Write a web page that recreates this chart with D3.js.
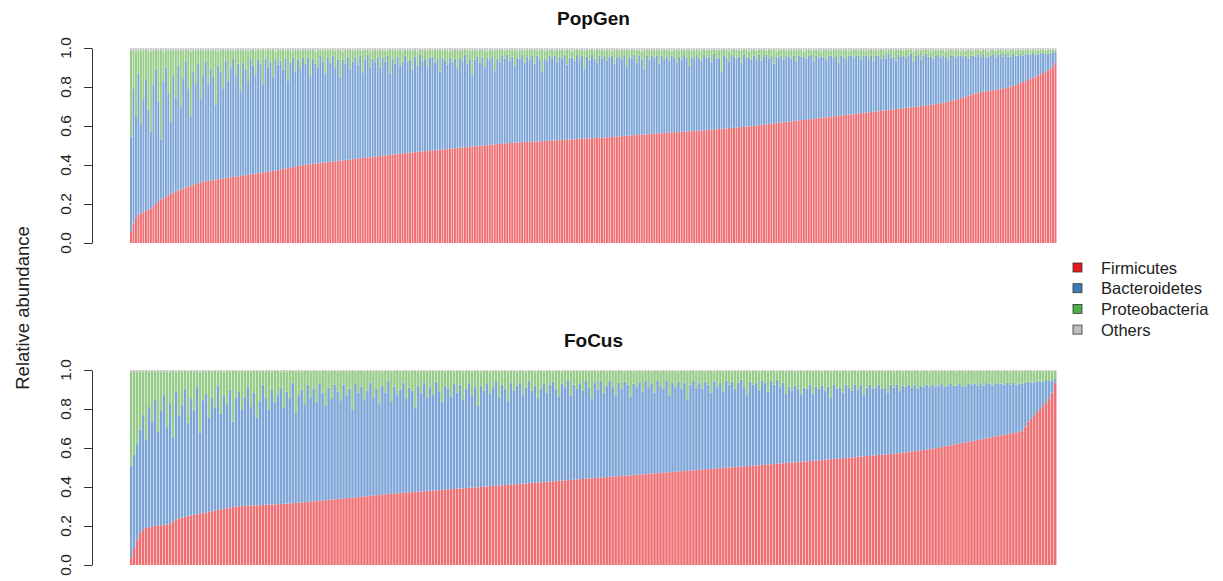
<!DOCTYPE html>
<html>
<head>
<meta charset="utf-8">
<script src="https://cdn.jsdelivr.net/npm/d3@7"></script>
<style>
  html, body { margin: 0; padding: 0; background: #fff; }
  svg { display: block; font-family: "Liberation Sans", Arial, Helvetica, sans-serif; }
</style>
</head>
<body>
<svg id="chart" width="1223" height="581"></svg>
<script>
// Phylum-level relative abundance per sample (per mille), samples sorted by Firmicutes.
const phyla = ["Firmicutes", "Bacteroidetes", "Proteobacteria", "Others"];
const yTicks = [0, 0.2, 0.4, 0.6, 0.8, 1.0];

// ---- PopGen cohort ----
const popFirm = [
  60,100,130,145,150,158,165,170,175,188, 200,215,222,230,238,245,252,258,264,270,
  275,279,285,290,295,299,303,307,311,315, 317,319,321,323,325,327,329,331,333,335,
  337,338,340,342,344,346,348,350,352,354, 356,358,360,362,364,366,368,370,372,374,
  376,379,381,384,386,389,391,394,396,399, 401,403,404,406,407,409,410,412,413,415,
  416,418,419,421,422,424,425,427,428,430, 431,433,434,436,437,439,440,442,443,445,
  446,448,449,451,452,454,455,457,458,460, 461,462,463,465,466,467,469,470,471,472,
  474,475,476,477,479,480,481,482,484,485, 486,487,489,490,491,492,494,495,496,497,
  499,500,501,502,504,505,506,507,508,510, 511,512,513,513,514,515,516,517,517,518,
  519,520,520,521,522,523,523,524,525,525, 526,527,528,528,529,530,531,532,532,533,
  534,535,535,536,537,538,538,539,540,540, 541,542,543,544,545,546,547,548,549,550,
  551,552,553,554,555,556,557,558,559,560, 561,562,563,563,564,565,566,567,568,569,
  570,570,571,572,573,574,575,575,576,577, 578,579,580,581,582,584,585,586,587,588,
  589,590,591,592,594,595,596,597,598,600, 601,603,604,606,607,609,610,612,613,615,
  616,618,619,621,622,624,625,627,628,630, 631,633,634,636,637,639,640,642,643,645,
  646,648,649,651,652,654,655,657,658,660, 661,663,664,666,667,669,670,672,673,675,
  676,678,679,681,682,684,685,687,688,690, 691,693,694,696,697,699,700,702,703,705,
  707,709,711,713,715,717,719,722,725,728, 731,735,739,743,747,751,755,759,763,767,
  771,774,776,778,780,782,784,786,788,790, 793,796,799,802,806,810,815,820,825,830,
  836,842,848,854,860,866,872,879,886,894, 905,925
];
const popBact = [
  485,690,520,725,455,582,675,515,395,622, 690,510,308,600,662,520,368,602,481,640,
  425,566,645,500,355,581,512,613,429,550, 613,491,574,527,385,583,551,459,602,495,
  563,607,520,578,436,579,542,480,593,556, 509,582,560,448,581,534,562,480,573,541,
  559,511,564,446,539,561,489,546,504,551, 519,547,456,539,513,491,550,518,457,535,
  509,542,481,519,428,516,495,528,467,500, 519,482,526,439,503,526,460,503,487,505,
  454,502,481,509,418,491,465,498,452,470, 499,468,477,425,489,443,496,465,474,433,
  476,480,449,468,401,470,459,433,466,445, 459,413,461,445,474,428,451,365,444,458,
  426,450,404,448,436,450,379,438,422,450, 434,453,422,442,396,435,429,448,408,437,
  421,440,400,439,423,357,422,411,435,425, 434,403,427,417,436,385,419,418,403,432,
  411,425,360,419,403,427,407,386,420,405, 419,393,412,416,375,404,408,392,416,355,
  404,393,412,371,405,384,338,402,381,400, 389,398,357,397,381,390,369,393,382,356,
  385,370,394,378,337,381,370,390,369,358, 387,371,375,349,388,361,365,294,373,362,
  341,375,364,353,361,330,369,353,352,340, 359,342,361,329,348,356,335,348,307,340,
  334,342,321,339,333,321,335,303,332,325, 324,312,326,329,298,321,310,313,312,295,
  314,312,301,309,273,306,300,288,302,300, 289,297,296,274,293,291,275,288,257,285,
  284,267,286,264,288,266,270,248,277,265, 269,257,266,274,233,261,265,238,257,265,
  248,246,234,247,250,233,241,233,215,232, 229,215,221,217,208,209,190,201,197,188,
  194,181,194,172,175,178,186,164,177,180, 162,174,156,153,164,150,145,150,135,140,
  129,123,127,111,105,109,98,91,84,81, 70,55
];
const popProt = [
  440,200,330,120,380,250,150,300,410,180, 100,260,460,150,90,220,370,130,240,80,
  290,140,60,200,330,110,170,70,250,120, 60,180,90,140,280,70,110,200,50,160,
  90,40,130,70,210,60,100,150,45,80, 120,50,70,180,40,90,60,140,35,75,
  55,100,40,160,65,30,110,50,85,40, 70,35,130,45,60,90,30,55,120,40,
  65,30,85,50,140,40,70,35,95,55, 40,75,30,110,50,25,80,45,60,35,
  90,40,55,30,120,45,65,35,80,50, 30,60,45,100,35,70,25,55,40,85,
  40,30,65,45,110,35,50,75,30,60, 45,90,35,55,25,70,40,130,50,30,
  65,40,85,30,50,35,100,45,60,30, 40,25,55,35,80,30,45,25,60,35,
  50,30,70,25,45,110,35,55,30,40, 25,60,35,45,20,75,40,30,55,25,
  45,30,90,35,50,25,40,65,30,45, 25,55,35,20,70,40,30,50,25,85,
  35,45,25,60,30,40,95,30,50,25, 40,30,70,25,45,35,55,20,40,65,
  30,50,25,40,80,30,45,25,35,55, 25,40,30,60,20,45,35,110,30,40,
  50,25,35,45,30,65,25,40,30,50, 30,40,25,55,35,20,45,30,70,25,
  40,30,50,25,35,45,25,60,30,35, 25,45,30,20,55,30,40,25,35,50,
  30,25,40,30,65,25,35,45,20,30, 40,30,25,50,30,20,45,30,60,25,
  30,45,25,35,20,40,30,55,25,35, 25,40,30,20,50,30,25,45,30,20,
  35,25,45,30,20,40,30,25,50,30, 25,40,30,20,35,25,45,30,20,35,
  25,30,20,40,25,30,20,35,25,20, 30,20,25,35,20,25,30,20,25,20,
  25,20,15,25,20,15,20,15,20,15, 15,10
];
const popOther = [
  15,10,20,10,15,10,10,15,20,10, 10,15,10,20,10,15,10,10,15,10,
  10,15,10,10,20,10,15,10,10,15, 10,10,15,10,10,20,10,10,15,10,
  10,15,10,10,10,15,10,20,10,10, 15,10,10,10,15,10,10,10,20,10,
  10,10,15,10,10,20,10,10,15,10, 10,15,10,10,20,10,10,15,10,10,
  10,10,15,10,10,20,10,10,10,15, 10,10,10,15,10,10,20,10,10,15,
  10,10,15,10,10,10,15,10,10,20, 10,10,15,10,10,20,10,10,15,10,
  10,15,10,10,10,15,10,10,20,10, 10,10,15,10,10,10,15,10,10,15,
  10,10,10,20,10,10,15,10,10,10, 15,10,10,10,10,20,10,10,15,10,
  10,10,10,15,10,10,20,10,10,10, 15,10,10,10,15,10,10,20,10,10,
  10,10,15,10,10,10,15,10,10,10, 15,10,10,20,10,10,15,10,10,10,
  10,10,10,15,10,20,10,10,10,15, 10,10,10,15,10,10,10,20,10,10,
  15,10,10,10,10,15,10,10,20,10, 10,10,15,10,10,10,15,10,10,10,
  20,10,10,10,15,10,10,10,20,10, 10,15,10,10,10,15,10,10,10,20,
  10,10,10,15,10,10,15,10,10,10, 20,10,10,15,10,10,10,20,10,10,
  10,15,10,10,10,15,10,10,20,10, 10,10,15,10,10,20,10,10,10,15,
  10,10,10,20,10,10,15,10,10,10, 15,10,10,10,20,10,10,15,10,10,
  10,20,10,10,15,10,10,20,10,10, 15,10,10,20,10,15,10,10,20,10,
  10,15,10,10,20,10,10,15,10,10, 15,10,20,10,10,15,10,10,15,10,
  10,15,10,10,15,10,10,15,10,10, 10,10
];

// ---- FoCus cohort ----
const focFirm = [
  40,90,130,165,180,190,194,197,200,202, 204,206,208,212,222,232,240,244,248,252,
  255,258,261,264,267,270,273,276,279,282, 285,288,291,294,297,300,301,302,303,304,
  305,306,306,307,308,309,310,310,311,312, 313,314,315,316,317,318,319,320,322,323,
  325,326,328,329,331,332,334,335,337,338, 340,341,343,344,346,347,349,350,352,353,
  355,356,358,359,361,362,364,365,367,368, 369,370,371,373,374,375,376,377,378,380,
  381,382,383,384,385,386,388,389,390,391, 392,393,394,396,397,398,399,400,402,403,
  404,405,406,408,409,410,411,412,414,415, 416,417,418,420,421,422,423,424,426,427,
  428,429,430,432,433,434,435,436,438,439, 440,441,442,444,445,446,447,448,450,451,
  452,453,454,456,457,458,459,460,462,463, 464,465,466,468,469,470,471,472,474,475,
  476,477,478,480,481,482,483,484,486,487, 488,490,491,492,493,494,496,497,498,499,
  500,501,502,504,505,506,507,508,510,511, 512,513,514,516,517,518,519,520,522,523,
  524,525,527,528,530,531,532,533,535,536, 537,539,540,541,543,544,545,547,548,549,
  551,552,553,555,556,557,559,560,561,563, 564,565,567,568,569,571,572,574,576,578,
  580,582,584,586,588,590,592,594,597,599, 602,605,608,611,614,617,620,623,626,629,
  632,635,638,641,644,647,650,653,656,659, 662,665,668,671,674,677,680,684,690,710,
  735,752,770,785,800,818,835,855,885,935
];
const focBact = [
  470,475,490,530,590,455,616,538,650,483, 586,669,502,618,433,658,525,576,657,478,
  600,532,654,416,578,610,482,584,526,638, 490,582,534,606,438,555,589,493,557,611,
  505,579,449,533,617,551,485,590,524,563, 597,491,575,539,618,462,556,580,503,602,
  535,579,507,601,554,483,576,520,588,552, 505,584,527,561,449,583,536,565,498,542,
  580,504,547,466,559,523,581,475,548,507, 531,565,484,537,521,430,544,508,557,480,
  534,493,557,511,450,534,517,476,540,494, 533,457,511,539,473,517,416,520,493,532,
  476,510,539,452,516,495,429,523,481,505, 519,458,492,525,474,498,432,481,504,458,
  497,511,475,433,497,481,510,434,487,466, 490,454,503,466,410,489,453,497,435,469,
  493,462,416,479,448,482,466,405,468,452, 471,425,479,447,461,415,474,448,431,470,
  394,458,437,460,424,453,367,441,459,423, 447,415,449,433,392,446,419,438,392,446,
  425,439,403,431,445,409,368,432,415,424, 388,432,421,374,428,407,431,395,413,357,
  391,370,393,377,345,379,373,392,345,379, 368,381,355,374,317,381,360,363,337,376,
  359,343,372,345,369,318,351,365,344,347, 361,340,343,317,356,339,353,321,344,337,
  345,328,341,319,332,325,333,321,328,316, 318,325,307,309,316,303,300,307,289,291,
  298,290,292,279,286,273,285,277,264,276, 268,265,257,264,251,258,245,246,240,225,
  205,183,165,160,140,122,115,90,60,20
];
const focProt = [
  480,430,370,300,220,350,180,260,140,310, 200,120,280,160,340,100,230,170,90,260,
  140,200,80,310,150,110,240,130,190,70, 220,120,170,90,260,140,100,200,130,80,
  180,110,240,150,70,130,200,90,160,120, 80,190,100,140,60,210,120,90,170,70,
  130,90,160,60,110,180,80,140,70,100, 150,70,120,90,200,60,110,80,140,100,
  60,130,90,170,70,110,50,150,80,120, 90,60,140,80,100,190,70,110,60,130,
  80,120,50,100,160,70,90,130,60,110, 70,140,90,60,120,80,180,70,100,60,
  110,80,50,130,70,90,150,60,100,70, 60,120,80,50,100,70,140,90,60,110,
  70,50,90,130,60,80,50,120,70,90, 60,100,50,80,140,60,90,50,110,70,
  50,80,120,60,90,50,70,130,60,80, 60,100,50,80,60,110,50,70,90,50,
  120,60,80,50,90,60,140,70,50,80, 60,90,50,70,110,50,80,60,100,50,
  70,50,90,60,40,80,120,50,70,60, 90,50,60,100,50,70,40,80,60,110,
  80,100,70,90,120,80,90,70,110,80, 90,70,100,80,130,70,90,80,110,70,
  80,100,70,90,70,120,80,70,90,80, 70,90,80,110,70,80,70,100,70,80,
  70,80,70,90,70,80,70,75,70,80, 70,65,80,70,65,75,70,65,80,70,
  65,70,60,75,65,70,60,65,70,60, 65,60,70,60,65,60,70,60,65,60,
  55,60,55,50,55,50,45,50,45,40
];
const focOther = [
  10,5,10,5,10,5,10,5,10,5, 10,5,10,10,5,10,5,10,5,10,
  5,10,5,10,5,10,5,10,5,10, 5,10,5,10,5,5,10,5,10,5,
  10,5,5,10,5,10,5,10,5,5, 10,5,10,5,5,10,5,10,5,5,
  10,5,5,10,5,5,10,5,5,10, 5,5,10,5,5,10,5,5,10,5,
  5,10,5,5,10,5,5,10,5,5, 10,5,5,10,5,5,10,5,5,10,
  5,5,10,5,5,10,5,5,10,5, 5,10,5,5,10,5,5,10,5,5,
  10,5,5,10,5,5,10,5,5,10, 5,5,10,5,5,10,5,5,10,5,
  5,10,5,5,10,5,5,10,5,5, 10,5,5,10,5,5,10,5,5,10,
  5,5,10,5,5,10,5,5,10,5, 5,10,5,5,10,5,5,10,5,5,
  10,5,5,10,5,5,10,5,5,10, 5,5,10,5,5,10,5,5,10,5,
  5,10,5,5,10,5,5,10,5,5, 10,5,5,10,5,5,10,5,5,10,
  5,5,10,5,5,10,5,5,10,5, 5,10,5,5,10,5,5,10,5,5,
  10,5,5,10,5,5,10,5,5,10, 5,5,10,5,5,10,5,5,10,5,
  5,10,5,5,10,5,5,10,5,5, 10,5,5,10,5,5,10,5,5,10,
  5,5,10,5,5,10,5,5,10,5, 5,10,5,5,10,5,5,10,5,5,
  5,5,10,5,5,10,5,5,10,5
];

// Bar fills (lightened palette) and legend swatches (full palette).
const barFill = {
  Firmicutes: "#ef6e72",
  Bacteroidetes: "#7ca4d7",
  Proteobacteria: "#96cc88",
  Others: "#cbcbcb"
};
const keyFill = {
  Firmicutes: "#e41a1c",
  Bacteroidetes: "#377eb8",
  Proteobacteria: "#4daf4a",
  Others: "#bebebe"
};

const svg = d3.select("#chart");
const X0 = 130, X1 = 1057, AXIS_X = 92;

function drawPanel(title, firm, bact, prot, oth, yTop, yBottom) {
  const rows = firm.map((f, i) => ({
    id: i,
    Firmicutes: f / 1000,
    Bacteroidetes: bact[i] / 1000,
    Proteobacteria: prot[i] / 1000,
    Others: oth[i] / 1000
  }));
  const series = d3.stack().keys(phyla)(rows);

  const x = d3.scaleBand().domain(rows.map(d => d.id)).range([X0, X1]).padding(0);
  const y = d3.scaleLinear().domain([0, 1]).range([yBottom, yTop]);
  const gap = 0.55;

  const g = svg.append("g");
  g.selectAll("g.layer")
    .data(series)
    .join("g")
    .attr("class", "layer")
    .attr("fill", s => barFill[s.key])
    .selectAll("rect")
    .data(s => s)
    .join("rect")
    .attr("x", d => x(d.data.id))
    .attr("width", Math.max(0.5, x.bandwidth() - gap))
    .attr("y", d => y(d[1]))
    .attr("height", d => Math.max(0, y(d[0]) - y(d[1])));

  // y axis: line + ticks from d3, rotated labels drawn beside it
  const axis = d3.axisLeft(y).tickValues(yTicks).tickSize(8).tickSizeOuter(0).tickFormat("");
  const ag = svg.append("g").attr("transform", `translate(${AXIS_X},0)`).call(axis);
  ag.select(".domain").attr("stroke", "#333").attr("stroke-width", 1);
  ag.selectAll(".tick line").attr("stroke", "#333").attr("stroke-width", 1);

  svg.append("g")
    .selectAll("text")
    .data(yTicks)
    .join("text")
    .attr("transform", t => `translate(71,${y(t)}) rotate(-90)`)
    .attr("text-anchor", "middle")
    .attr("font-size", 15.5)
    .attr("fill", "#222")
    .text(d3.format(".1f"));

  svg.append("text")
    .attr("x", (X0 + X1) / 2)
    .attr("y", yTop - 23)
    .attr("text-anchor", "middle")
    .attr("font-size", 19)
    .attr("font-weight", "bold")
    .attr("fill", "#111")
    .text(title);
}

drawPanel("PopGen", popFirm, popBact, popProt, popOther, 48, 243);
drawPanel("FoCus", focFirm, focBact, focProt, focOther, 370, 565);

// shared y-axis title
svg.append("text")
  .attr("transform", "translate(29,308) rotate(-90)")
  .attr("text-anchor", "middle")
  .attr("font-size", 18.5)
  .attr("fill", "#222")
  .text("Relative abundance");

// legend
const legend = svg.append("g").attr("transform", "translate(1073,263)");
const item = legend.selectAll("g")
  .data(phyla)
  .join("g")
  .attr("transform", (d, i) => `translate(0,${i * 20.7})`);
item.append("rect")
  .attr("width", 9).attr("height", 9)
  .attr("fill", d => keyFill[d])
  .attr("stroke", "#333").attr("stroke-width", 0.8);
item.append("text")
  .attr("x", 28).attr("y", 10.5)
  .attr("font-size", 16.5)
  .attr("fill", "#222")
  .text(d => d);
</script>
</body>
</html>
